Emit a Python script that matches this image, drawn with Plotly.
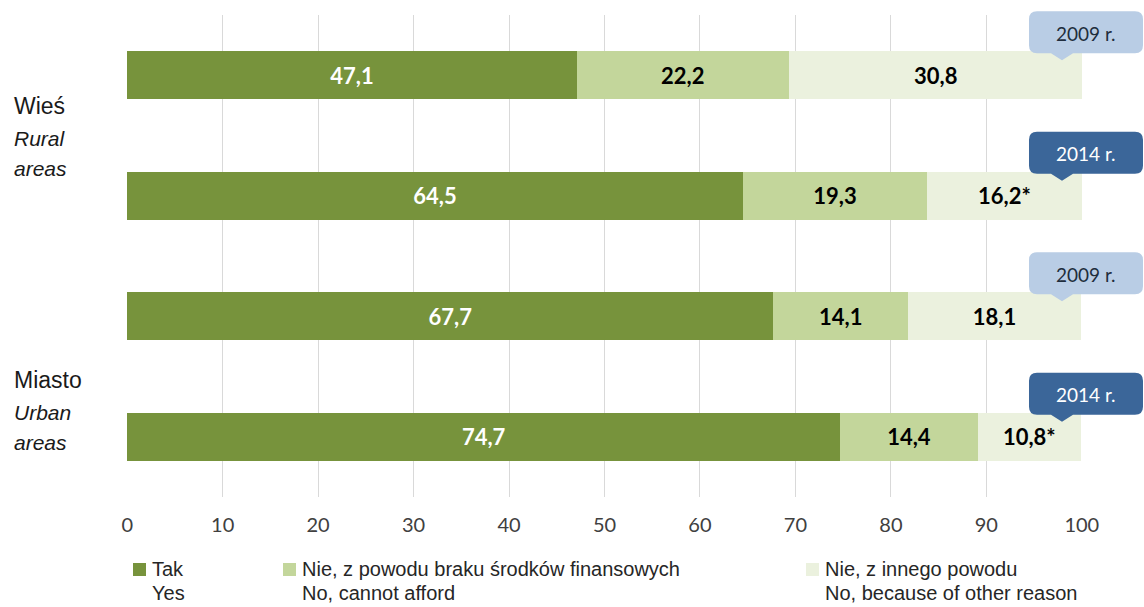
import plotly.graph_objects as go

# Survey rows, top to bottom
rows = ["Wieś 2009", "Wieś 2014", "Miasto 2009", "Miasto 2014"]
years = ["2009 r.", "2014 r.", "2009 r.", "2014 r."]
tak = [47.1, 64.5, 67.7, 74.7]
nie_finanse = [22.2, 19.3, 14.1, 14.4]
nie_inne = [30.8, 16.2, 18.1, 10.8]
inne_flag = ["", "*", "", "*"]
x_ticks = [0, 10, 20, 30, 40, 50, 60, 70, 80, 90, 100]

series = [
    ("Tak<br>Yes", tak, ["" for _ in tak], "#77933C", "white"),
    ("Nie, z powodu braku środków finansowych<br>No, cannot afford", nie_finanse, ["" for _ in tak], "#C3D69B", "black"),
    ("Nie, z innego powodu<br>No, because of other reason", nie_inne, inne_flag, "#EBF1DE", "black"),
]

W, H = 1144, 607
ML, MR, MT, MB = 127, 62, 15, 110
PW, PH = W - ML - MR, H - MT - MB
ypos = list(range(len(rows)))
BAR_W = 0.4


def fmt(v):
    return f"{v:.1f}".replace(".", ",")


def xp(px):
    return (px - ML) / PW


def yp(py):
    return (H - MB - py) / PH


def cat_to_px(c):
    # y axis runs from 3.5 at the bottom to -0.5 at the top
    return MT + (c + 0.5) / 4 * PH


fig = go.Figure()
for name, vals, flags, color, tcolor in series:
    fig.add_trace(go.Bar(
        y=ypos, x=vals, orientation="h", name=name, width=BAR_W,
        marker=dict(color=color, line=dict(width=0)),
        text=[fmt(v) + f for v, f in zip(vals, flags)],
        textposition="inside", insidetextanchor="middle", textangle=0,
        textfont=dict(family="Lato", size=22, color=tcolor, weight="bold"),
        hoverinfo="skip", showlegend=False,
    ))

shapes = []
annotations = []

# Year callouts above the right end of every bar
for i, yr in enumerate(years):
    bar_top = cat_to_px(ypos[i] - BAR_W / 2)
    dark = yr.startswith("2014")
    fill = "#3B6699" if dark else "#B9CDE5"
    tcol = "white" if dark else "#1F2D3D"
    x0, x1 = 1029, 1143
    y1 = bar_top + 2
    y0 = y1 - 42
    r = 8
    tipx, tipy = 1062, bar_top + 9
    pts = [
        ("M", x0 + r, y0), ("L", x1 - r, y0), ("Q", x1, y0, x1, y0 + r),
        ("L", x1, y1 - r), ("Q", x1, y1, x1 - r, y1),
        ("L", tipx + 11, y1), ("L", tipx, tipy), ("L", tipx - 11, y1),
        ("L", x0 + r, y1), ("Q", x0, y1, x0, y1 - r),
        ("L", x0, y0 + r), ("Q", x0, y0, x0 + r, y0),
    ]
    path = ""
    for p in pts:
        cmd, coords = p[0], p[1:]
        conv = []
        for k in range(0, len(coords), 2):
            conv.append(f"{xp(coords[k]):.5f},{yp(coords[k + 1]):.5f}")
        path += cmd + " " + " ".join(conv) + " "
    shapes.append(dict(type="path", path=path + "Z", xref="paper", yref="paper",
                       fillcolor=fill, line=dict(width=0), layer="above"))
    annotations.append(dict(x=xp((x0 + x1) / 2), y=yp((y0 + y1) / 2 + 1), xref="paper", yref="paper",
                            text=yr, showarrow=False, xanchor="center", yanchor="middle",
                            font=dict(family="Lato", size=19, color=tcol)))

# Group labels on the left
groups = [("Wieś", "Rural", "areas", 106), ("Miasto", "Urban", "areas", 380)]
for pl, en1, en2, top in groups:
    for j, (txt, it) in enumerate([(pl, False), (en1, True), (en2, True)]):
        annotations.append(dict(
            x=xp(12), y=yp(top + j * 30 + (2 if j else 0)), xref="paper", yref="paper",
            text=f"<i>{txt}</i>" if it else txt, showarrow=False,
            xanchor="left", yanchor="middle",
            font=dict(family="Liberation Sans", size=23 if not it else 21, color="#1a1a1a")))

# Legend drawn below the axis
legend_items = [
    (133, "Tak", "Yes", "#77933C"),
    (283, "Nie, z powodu braku środków finansowych", "No, cannot afford", "#C3D69B"),
    (806, "Nie, z innego powodu", "No, because of other reason", "#EBF1DE"),
]
for lx, l1, l2, col in legend_items:
    shapes.append(dict(type="rect", xref="paper", yref="paper",
                       x0=xp(lx), x1=xp(lx + 13), y0=yp(576), y1=yp(563),
                       fillcolor=col, line=dict(width=0)))
    for k, t in enumerate([l1, l2]):
        annotations.append(dict(x=xp(lx + 17), y=yp(569 + 24 * k), xref="paper", yref="paper",
                                text=t, showarrow=False, xanchor="left", yanchor="middle",
                                font=dict(family="Liberation Sans", size=20, color="#262626")))

fig.update_layout(
    width=W, height=H, barmode="stack",
    margin=dict(l=ML, r=MR, t=MT, b=MB),
    paper_bgcolor="white", plot_bgcolor="white",
    shapes=shapes, annotations=annotations,
    uniformtext=dict(minsize=22, mode="show"),
    xaxis=dict(range=[-0.02, 100.02], tickvals=x_ticks, ticktext=[str(t) for t in x_ticks],
               showgrid=True, gridcolor="#D9D9D9", gridwidth=1, zeroline=False,
               showline=False, ticks="", ticklabelstandoff=14,
               tickfont=dict(family="Lato", size=20, color="#404040")),
    yaxis=dict(range=[3.5, -0.5], showticklabels=False, showgrid=False, zeroline=False,
               showline=False, ticks=""),
    showlegend=False,
)

fig.write_html("out.html")
